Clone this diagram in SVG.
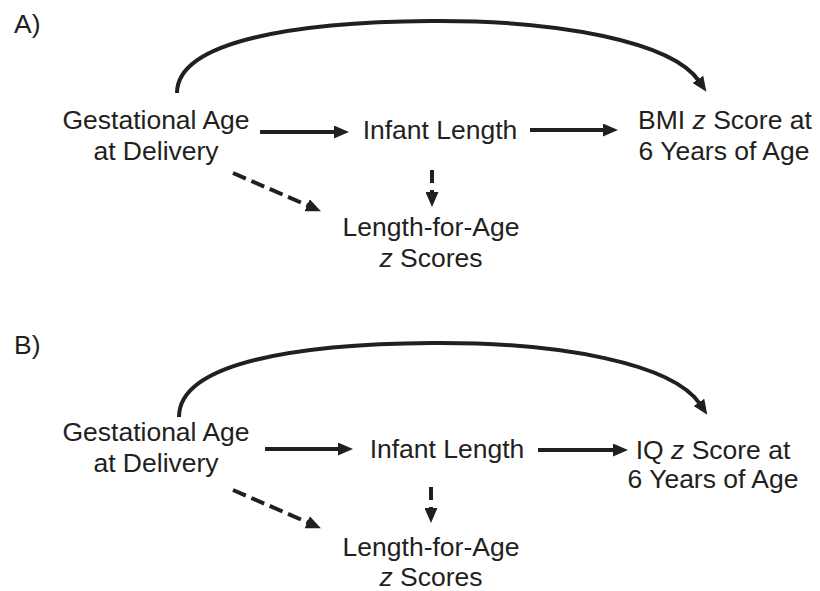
<svg xmlns="http://www.w3.org/2000/svg" width="820" height="591" viewBox="0 0 820 591">
<defs>
<marker id="ah" viewBox="0 0 15 13" refX="2" refY="6.5" markerWidth="15" markerHeight="13" markerUnits="userSpaceOnUse" orient="auto">
<path d="M0,0 L15,6.5 L0,13 z" fill="#231f20"/>
</marker>
<style>
text{font-family:"Liberation Sans",Arial,sans-serif;font-size:26.5px;fill:#231f20}
.c{text-anchor:middle}
.e{fill:none;stroke:#231f20;stroke-width:4;marker-end:url(#ah)}
.d{stroke-dasharray:14 6}
.v{stroke-dasharray:13 7}
</style>
</defs>
<rect width="820" height="591" fill="#fff"/>
<text x="14" y="33">A)</text>
<text x="14" y="354">B)</text>
<g id="connectors">
<path class="e" d="M177,93 C177,40 300,22 430,21 C560,20 672,42 699,81"/>
<line class="e" x1="260" y1="132" x2="336" y2="132"/>
<line class="e" x1="530" y1="130" x2="605" y2="130"/>
<line class="e d" x1="233" y1="173" x2="309" y2="206"/>
<line class="e v" x1="432" y1="170" x2="432" y2="194"/>
<path class="e" d="M179,417 C179,362 300,344 432,343 C562,342 673,364 700,404"/>
<line class="e" x1="265" y1="449" x2="340" y2="449"/>
<line class="e" x1="538" y1="450" x2="615" y2="450"/>
<line class="e d" x1="233" y1="490" x2="309" y2="523"/>
<line class="e v" x1="431" y1="487" x2="431" y2="510"/>
</g>
<g id="a-gest"><text class="c" x="156" y="129">Gestational Age</text><text class="c" x="156" y="160">at Delivery</text></g>
<g id="a-infant"><text class="c" x="440" y="139">Infant Length</text></g>
<g id="a-lfa"><text class="c" x="431" y="236">Length-for-Age</text><text class="c" x="431" y="267"><tspan font-style="italic">z</tspan> Scores</text></g>
<g id="a-bmi"><text class="c" x="725" y="129">BMI <tspan font-style="italic">z</tspan> Score at</text><text class="c" x="724" y="160">6 Years of Age</text></g>
<g id="b-gest"><text class="c" x="156" y="441">Gestational Age</text><text class="c" x="156" y="472">at Delivery</text></g>
<g id="b-infant"><text class="c" x="447" y="458">Infant Length</text></g>
<g id="b-lfa"><text class="c" x="431" y="556">Length-for-Age</text><text class="c" x="431" y="586"><tspan font-style="italic">z</tspan> Scores</text></g>
<g id="b-iq"><text class="c" x="713" y="459">IQ <tspan font-style="italic">z</tspan> Score at</text><text class="c" x="713" y="488">6 Years of Age</text></g>
</svg>
